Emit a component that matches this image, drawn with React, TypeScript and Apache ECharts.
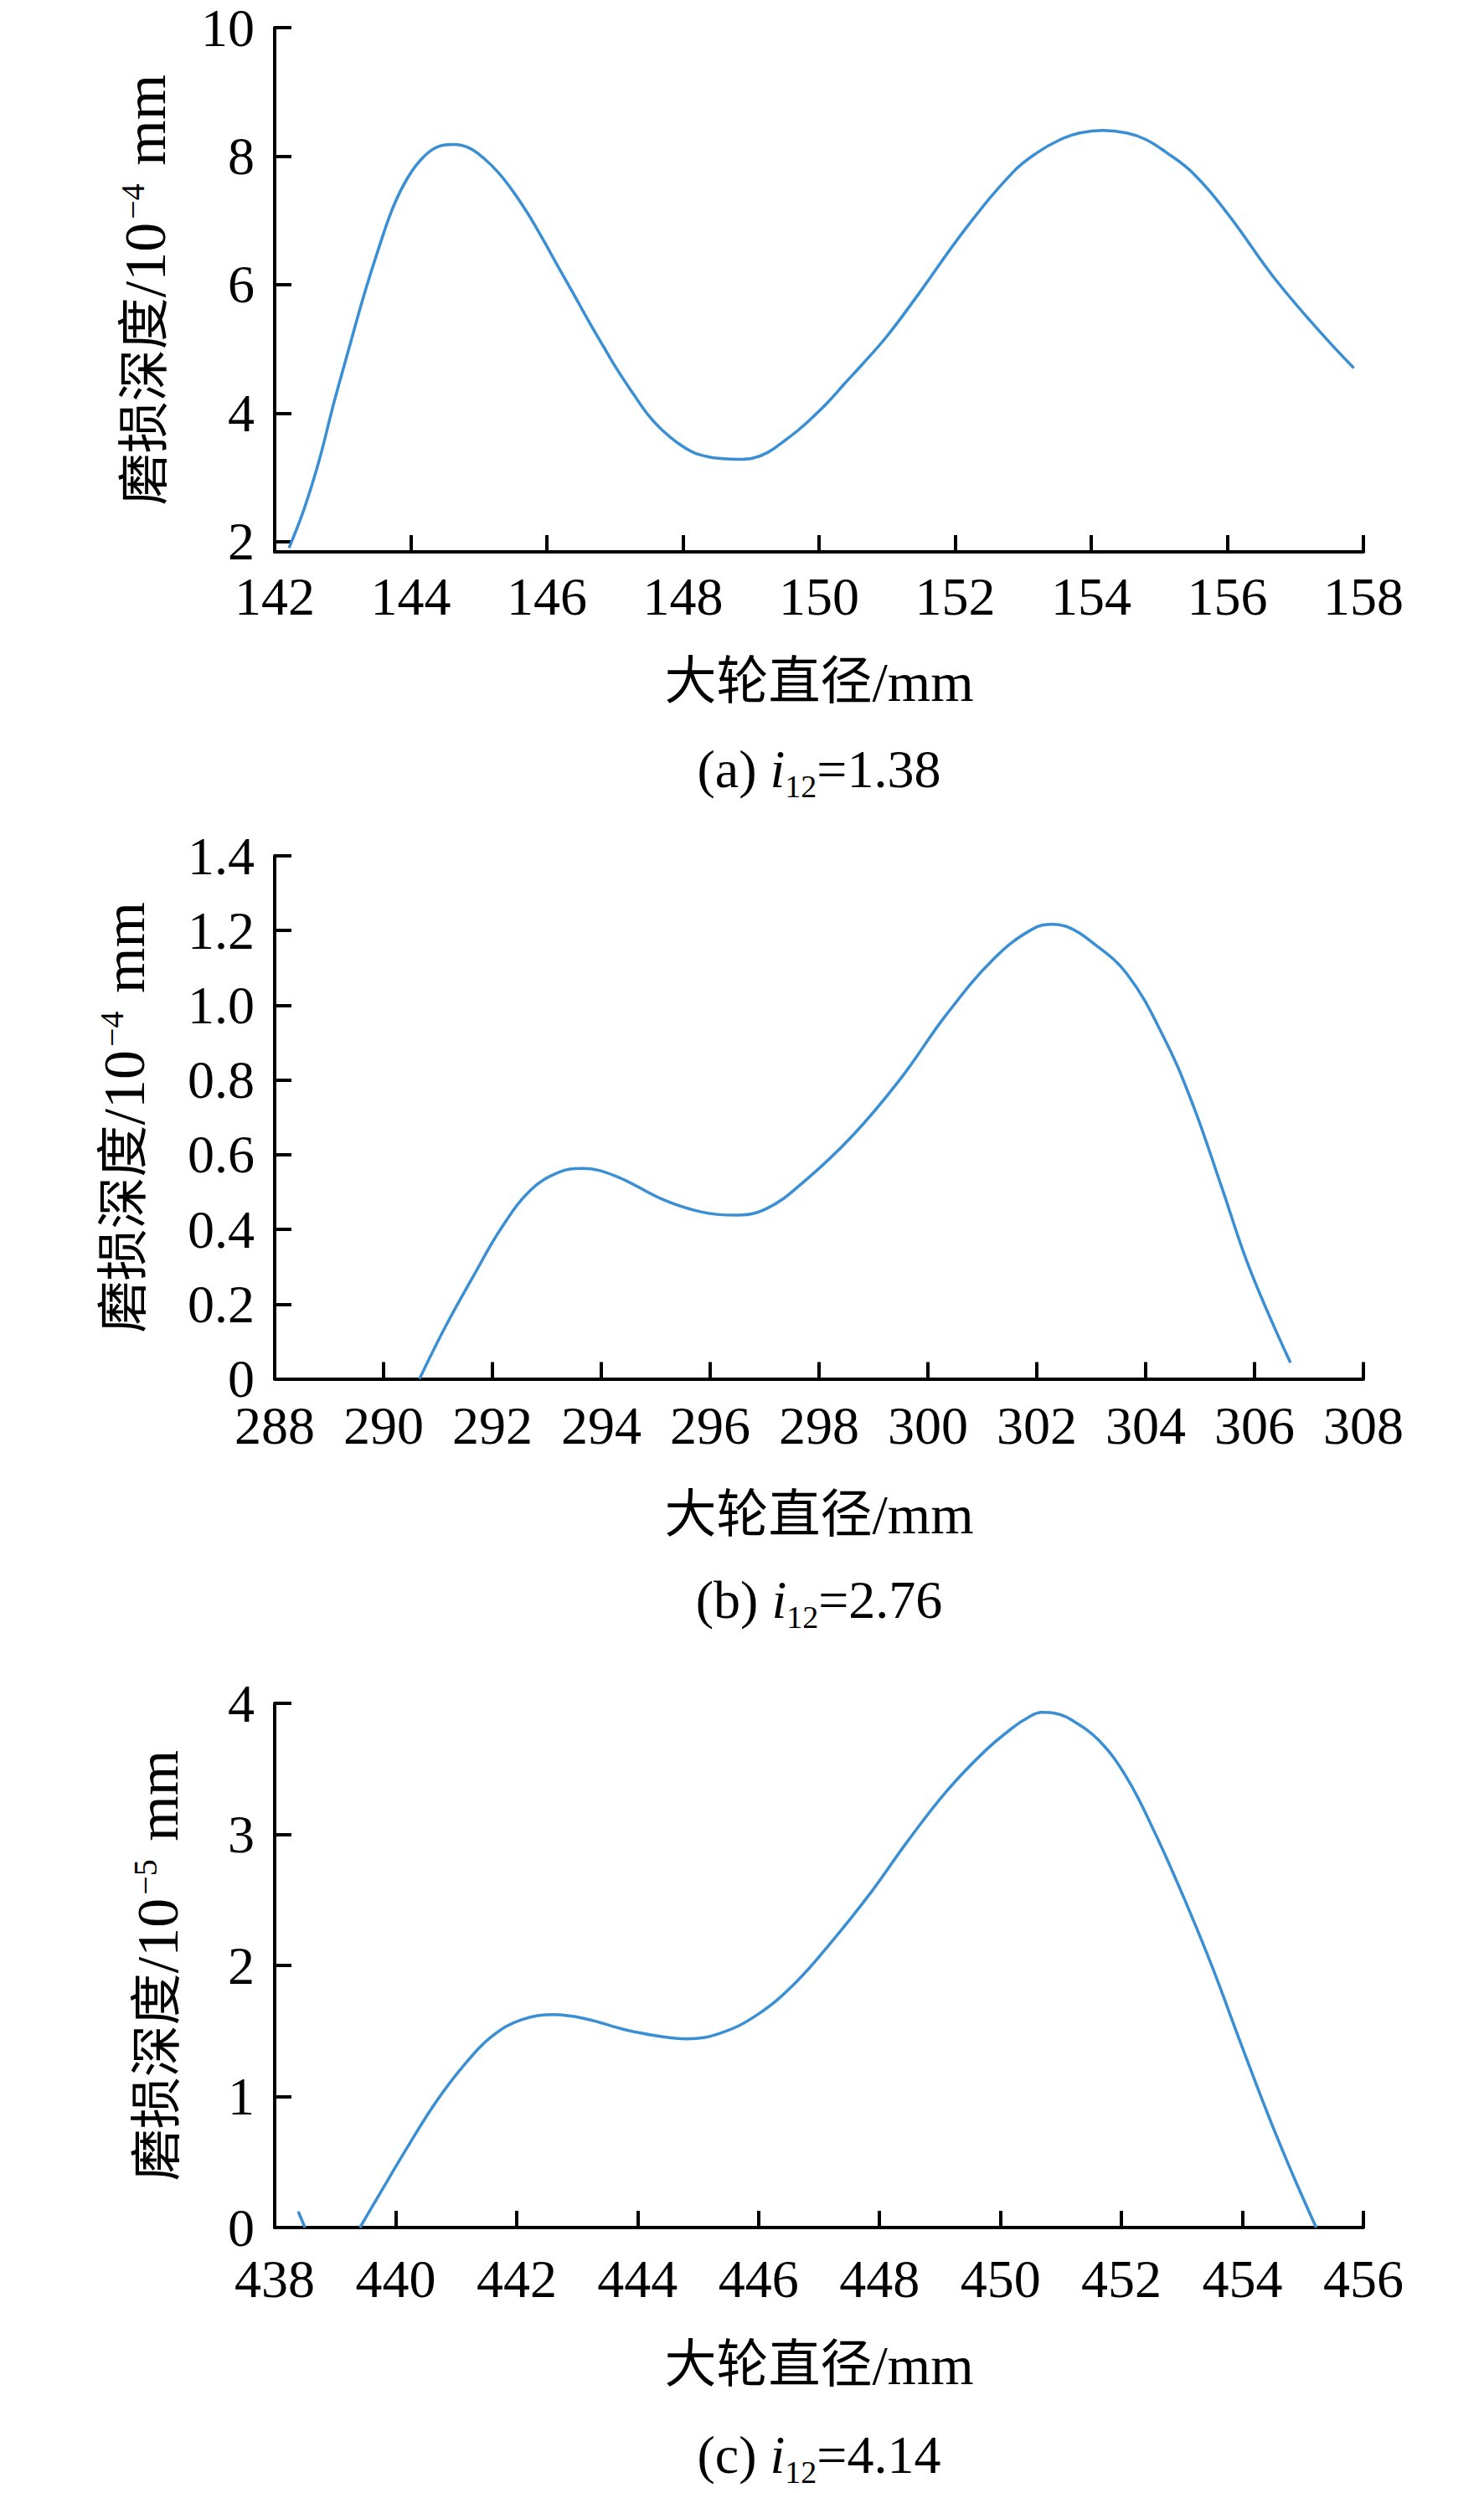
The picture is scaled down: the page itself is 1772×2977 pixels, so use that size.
import React, { useEffect, useRef } from "react";
import * as echarts from "echarts";

const FONT = "'Liberation Serif', 'Times New Roman', 'Noto Sans CJK SC', serif";
const LINE_COLOR = "#3a8fd4";

// (a) i12 = 1.38
const xA = [142.21, 142.43, 142.65, 142.87, 143.09, 143.31, 143.53, 143.75, 143.97, 144.19, 144.41, 144.63, 144.85, 145.07, 145.29, 145.51, 145.73, 145.95, 146.17, 146.39, 146.61, 146.83, 147.05, 147.27, 147.49, 147.71, 147.93, 148.15, 148.37, 148.59, 148.81, 149.03, 149.25, 149.48, 149.7, 149.92, 150.14, 150.36, 150.62, 151.0, 151.46, 152.16, 152.85, 153.2, 153.55, 153.83, 154.17, 154.52, 154.8, 155.1, 155.48, 156.0, 156.7, 157.4, 157.86];
const yA = [1.9, 2.5, 3.25, 4.16, 5.0, 5.83, 6.57, 7.23, 7.69, 7.99, 8.15, 8.18, 8.13, 7.97, 7.74, 7.44, 7.09, 6.69, 6.27, 5.86, 5.44, 5.04, 4.65, 4.3, 3.97, 3.72, 3.53, 3.39, 3.32, 3.29, 3.28, 3.3, 3.39, 3.56, 3.74, 3.95, 4.18, 4.44, 4.74, 5.2, 5.85, 6.88, 7.75, 8.05, 8.26, 8.36, 8.4, 8.36, 8.26, 8.06, 7.75, 7.11, 6.09, 5.22, 4.7];
const yTicksA = [2, 4, 6, 8, 10];

// (b) i12 = 2.76
const xB = [290.66, 291.13, 291.65, 292.17, 292.7, 293.22, 293.65, 294.26, 295.13, 295.83, 296.43, 297.04, 297.74, 298.61, 299.48, 300.35, 301.22, 301.91, 302.3, 302.61, 302.96, 303.65, 304.35, 304.87, 305.39, 305.91, 306.66];
const yB = [0.0, 0.138, 0.275, 0.405, 0.505, 0.553, 0.563, 0.543, 0.48, 0.447, 0.438, 0.456, 0.53, 0.65, 0.8, 0.977, 1.126, 1.203, 1.217, 1.207, 1.175, 1.085, 0.909, 0.733, 0.516, 0.295, 0.043];

// (c) i12 = 4.14  (null = gap where the curve leaves the plot)
const xC = [438.39, 438.5, 438.9, 439.41, 439.72, 440.19, 440.66, 441.13, 441.6, 442.07, 442.62, 443.17, 443.79, 444.42, 444.81, 445.36, 445.98, 446.61, 447.23, 447.86, 448.49, 449.11, 449.74, 450.21, 450.45, 450.68, 450.92, 451.15, 451.62, 452.09, 452.56, 453.03, 453.5, 453.96, 454.43, 454.83, 455.22];
const yC = [0.122, 0.0, null, 0.0, 0.244, 0.609, 0.954, 1.239, 1.462, 1.584, 1.624, 1.59, 1.51, 1.455, 1.44, 1.482, 1.624, 1.868, 2.193, 2.558, 2.964, 3.33, 3.635, 3.817, 3.89, 3.931, 3.922, 3.88, 3.72, 3.431, 3.005, 2.518, 1.99, 1.421, 0.853, 0.406, 0.0];

const xName = "大轮直径{l|/mm}";
const yNameA = "磨损深度{l|/10}{sup|−4}{l| mm}";
const yNameB = "磨损深度{l|/10}{sup|−4}{l| mm}";
const yNameC = "磨损深度{l|/10}{sup|−5}{l| mm}";
const subA = "(a) {i|i}{s|12}=1.38";
const subB = "(b) {i|i}{s|12}=2.76";
const subC = "(c) {i|i}{s|12}=4.14";

const pairs = (xs: number[], ys: (number | null)[]) => xs.map((x, i) => [x, ys[i]]);

const axisLineStyle = { color: "#000", width: 4 };

function makeX(idx: number, min: number, max: number, margin: number, nameGap: number) {
  return {
    type: "value",
    gridIndex: idx,
    min,
    max,
    interval: 2,
    name: xName,
    nameLocation: "middle",
    nameGap,
    nameTextStyle: {
      fontSize: 62,
      fontFamily: FONT,
      color: "#000",
      rich: { l: { fontSize: 66, fontFamily: FONT, color: "#000" } },
    },
    axisLine: { show: true, onZero: false, lineStyle: axisLineStyle },
    axisTick: { show: true, inside: true, length: 20, lineStyle: { color: "#000", width: 4 } },
    axisLabel: { show: true, margin, fontSize: 64, fontFamily: FONT, color: "#000" },
    splitLine: { show: false },
  };
}

function makeY(idx: number, extra: any, name: string, nameGap: number) {
  return {
    type: "value",
    gridIndex: idx,
    name,
    nameLocation: "middle",
    nameRotate: 90,
    nameGap,
    nameTextStyle: {
      fontSize: 62,
      fontFamily: FONT,
      color: "#000",
      rich: {
        l: { fontSize: 70, fontFamily: FONT, color: "#000" },
        sup: { fontSize: 40, fontFamily: FONT, color: "#000", verticalAlign: "top", lineHeight: 40, padding: [0, 4, 0, 4] },
      },
    },
    axisLine: { show: true, onZero: false, lineStyle: axisLineStyle },
    axisTick: { show: true, inside: true, length: 20, lineStyle: { color: "#000", width: 4 } },
    axisLabel: { show: true, margin: 24, fontSize: 64, fontFamily: FONT, color: "#000" },
    splitLine: { show: false },
    ...extra,
  };
}

function subtitle(text: string, y: number) {
  return {
    type: "text",
    x: 978,
    y,
    style: {
      text,
      fontSize: 64,
      fontFamily: FONT,
      fill: "#000",
      align: "center",
      verticalAlign: "middle",
      lineHeight: 80,
      rich: {
        i: { fontSize: 64, fontFamily: FONT, fontStyle: "italic", fill: "#000", lineHeight: 80 },
        s: { fontSize: 38, fontFamily: FONT, fill: "#000", verticalAlign: "bottom", lineHeight: 40 },
      },
    },
  };
}

function lineSeries(idx: number, data: any[]) {
  return {
    type: "line",
    xAxisIndex: idx,
    yAxisIndex: idx,
    data,
    smooth: 0.4,
    showSymbol: false,
    symbol: "none",
    clip: true,
    lineStyle: { color: LINE_COLOR, width: 3.5 },
    emphasis: { disabled: true },
  };
}

export default function App() {
  const ref = useRef<HTMLDivElement>(null);
  useEffect(() => {
    document.body.style.margin = "0";
    if (!ref.current) return;
    const chart = echarts.init(ref.current, undefined, { renderer: "svg" });
    const option: any = {
      animation: false,
      backgroundColor: "#fff",
      grid: [
        { left: 328, top: 33, width: 1300, height: 626 },
        { left: 328, top: 1022, width: 1300, height: 624.5 },
        { left: 328, top: 2034, width: 1300, height: 626 },
      ],
      xAxis: [
        makeX(0, 142, 158, 21, 122),
        makeX(1, 288, 308, 24, 129),
        makeX(2, 438, 456, 29, 131),
      ],
      yAxis: [
        makeY(
          0,
          {
            min: 1.84,
            max: 10,
            axisTick: { show: true, inside: true, length: 20, customValues: yTicksA, lineStyle: { color: "#000", width: 4 } },
            axisLabel: { show: true, margin: 24, fontSize: 64, fontFamily: FONT, color: "#000", customValues: yTicksA },
          },
          yNameA,
          120
        ),
        makeY(
          1,
          {
            min: 0,
            max: 1.4,
            interval: 0.2,
            axisLabel: {
              show: true,
              margin: 24,
              fontSize: 64,
              fontFamily: FONT,
              color: "#000",
              formatter: (v: number) => (v === 0 ? "0" : v.toFixed(1)),
            },
          },
          yNameB,
          145
        ),
        makeY(2, { min: 0, max: 4, interval: 1 }, yNameC, 105),
      ],
      series: [
        lineSeries(0, pairs(xA, yA)),
        lineSeries(1, pairs(xB, yB)),
        lineSeries(2, pairs(xC, yC)),
      ],
      graphic: [subtitle(subA, 918), subtitle(subB, 1910), subtitle(subC, 2931)],
    };
    chart.setOption(option);
    return () => chart.dispose();
  }, []);
  return <div ref={ref} style={{ width: 1772, height: 2977 }} />;
}
